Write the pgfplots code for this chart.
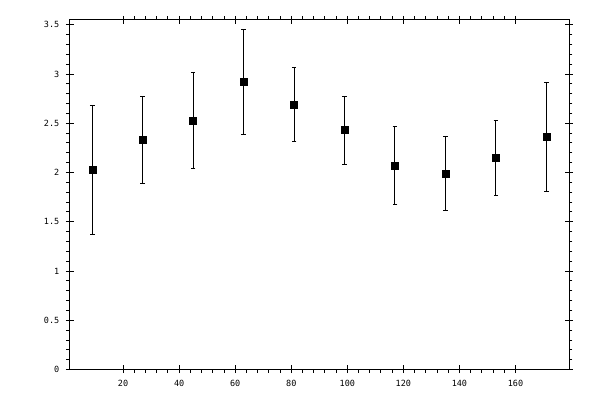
\documentclass[border=0pt]{standalone}
\usepackage{pgfplots}
\pgfplotsset{compat=1.18}
\usepackage{pgfplotstable}
\usepackage{fontspec}
\setmainfont{DejaVu Sans Mono}

\pgfplotstableread{
x   y     e
9   2.03  0.655
27  2.33  0.445
45  2.53  0.485
63  2.92  0.53
81  2.69  0.375
99  2.43  0.345
117 2.07  0.395
135 1.99  0.375
153 2.15  0.38
171 2.36  0.55
}\datatable

\pgfplotsset{
  frame/.style={
    scale only axis,
    width=500pt, height=350.4pt,
    at={(0,0)}, anchor=south west,
    xmin=0.8, xmax=179.2,
    ymin=0, ymax=3.555,
    xtick={20,40,...,160},
    ytick={0,0.5,...,3.5},
    minor x tick num=4,
    minor y tick num=4,
    axis line style={line width=1pt},
    every tick/.style={black, line width=1pt},
  }
}

\begin{document}
\begin{tikzpicture}
\path[use as bounding box] (-69.3pt,-30.3pt) rectangle (530.7pt,369.7pt);

% data and outward ticks
\begin{axis}[
  frame,
  tick align=outside,
  major tick length=3.5pt,
  minor tick length=3pt,
  /pgf/number format/assume math mode=true,
  ticklabel style={font=\fontsize{8.5}{8.5}\selectfont},
  xticklabel style={yshift=-3pt},
  yticklabel style={xshift=-3pt},
]
\addplot[
  black, only marks,
  mark=square*, mark size=3.5pt,
  error bars/.cd,
    y dir=both, y explicit,
    error bar style={line width=1pt},
    error mark options={rotate=90, mark size=2.3pt, line width=1pt},
] table[x=x, y=y, y error=e] {\datatable};
\end{axis}

% inward part of the major ticks
\begin{axis}[
  frame,
  tick align=inside,
  major tick length=4.5pt,
  minor tick length=0pt,
  xticklabels={}, yticklabels={},
]
\end{axis}
\end{tikzpicture}
\end{document}
